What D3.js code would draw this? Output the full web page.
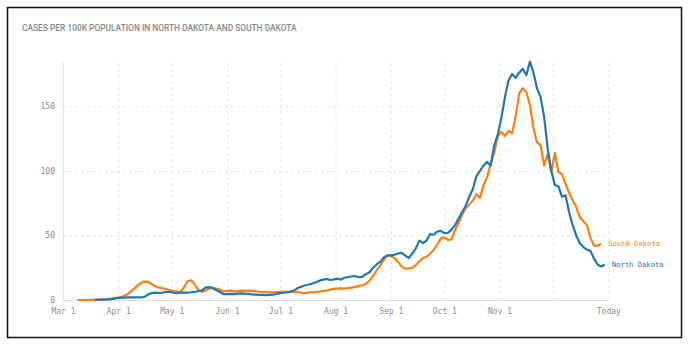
<!DOCTYPE html>
<html>
<head>
<meta charset="utf-8">
<script src="https://cdn.jsdelivr.net/npm/d3@7/dist/d3.min.js"></script>
<style>
  html, body { margin: 0; padding: 0; background: #fff; }
  svg { display: block; }
</style>
</head>
<body>
<svg id="chart" width="688" height="345"></svg>
<script>
// Cases per 100k population, sampled every 2 days.
const title = "CASES PER 100K POPULATION IN NORTH DAKOTA AND SOUTH DAKOTA";
const seriesNames = ["North Dakota", "South Dakota"];
const seriesColors = ["#1f77b4", "#ff7f0e"];

// South Dakota starts 2020-03-09
const sdStart = "2020-03-09";
const sdValues = [
  0, 0, 0, 0.1, 0.2, 0.3, 0.4, 0.5, 0.6, 0.8,
  1.2, 1.6, 2.0, 3.0, 4.2, 6.5, 8.8, 11.5, 13.5, 14.2,
  14.0, 12.0, 10.5, 9.6, 9.0, 8.5, 7.6, 7.0, 6.6, 6.2,
  10.0, 14.5, 15.2, 12.0, 7.5, 6.5, 7.4, 8.8, 9.2, 8.8,
  8.0, 6.6, 7.0, 7.3, 6.6, 6.8, 7.2, 7.0, 7.2, 7.0,
  6.8, 6.4, 6.0, 6.2, 6.0, 5.9, 6.2, 6.4, 6.6, 6.4,
  6.2, 6.4, 6.0, 5.6, 5.2, 5.8, 6.2, 6.0, 6.6, 7.0,
  7.2, 8.0, 8.6, 8.8, 9.0, 8.8, 9.2, 9.6, 10.2, 10.8,
  11.4, 12.5, 15.0, 18.5, 23.0, 26.5, 31.0, 34.5, 34.0, 32.5,
  29.5, 26.0, 24.2, 24.5, 25.0, 27.0, 30.0, 32.5, 33.5, 36.0,
  38.5, 43.0, 47.5, 48.5, 46.5, 47.0, 54.0, 60.0, 66.0, 71.0,
  74.0, 77.0, 82.0, 79.0, 89.0, 95.0, 106.0, 114.0, 127.0, 130.0,
  127.0, 131.0, 129.0, 142.0, 160.0, 164.0, 161.0, 151.0, 133.0, 122.0,
  120.0, 104.0, 113.0, 99.0, 114.0, 99.0, 97.5, 90.0, 83.0, 77.0,
  72.0, 64.0, 61.0, 58.0, 48.0, 42.0, 42.0, 43.5
];

// North Dakota starts 2020-03-19
const ndStart = "2020-03-19";
const ndValues = [
  0, 0.2, 0.3, 0.4, 0.5, 0.9, 1.4, 1.6, 1.8, 2.0,
  2.0, 2.0, 2.0, 2.1, 2.6, 4.5, 5.4, 5.7, 5.3, 5.8,
  6.4, 6.2, 5.6, 5.2, 5.7, 5.8, 5.7, 6.0, 6.4, 6.8,
  7.4, 9.6, 10.0, 9.4, 7.8, 6.2, 4.6, 4.5, 4.7, 4.6,
  5.0, 5.2, 4.9, 4.8, 4.4, 4.2, 4.0, 3.9, 3.8, 4.0,
  4.1, 4.8, 5.3, 5.6, 6.0, 6.8, 7.6, 9.5, 10.5, 11.4,
  12.0, 12.8, 13.8, 15.0, 15.8, 16.3, 15.5, 16.0, 16.5, 15.8,
  17.2, 17.8, 18.2, 18.6, 17.6, 18.0, 20.0, 21.5, 25.0, 27.5,
  29.5, 33.0, 34.5, 34.5, 35.0, 36.0, 36.5, 34.5, 32.5, 36.0,
  40.0, 46.0, 44.0, 46.0, 51.0, 50.5, 53.0, 53.5, 51.8, 52.0,
  54.5, 58.0, 63.0, 68.0, 73.0, 80.0, 86.0, 96.0, 100.0, 104.0,
  107.0, 104.0, 120.0, 128.0, 141.0, 157.0, 170.0, 175.0, 172.0, 176.0,
  179.0, 174.0, 184.5, 176.0, 164.0, 157.0, 142.0, 117.0, 100.0, 89.0,
  88.0, 80.0, 81.0, 68.0, 58.0, 50.0, 44.0, 41.0, 39.0, 38.0,
  32.0, 27.5, 26.0, 27.5
];

const stepDays = 2;
const xDomain = ["2020-03-01", "2021-01-01"];
const xTickDates = ["2020-03-01", "2020-04-01", "2020-05-01", "2020-06-01", "2020-07-01",
  "2020-08-01", "2020-09-01", "2020-10-01", "2020-11-01", "2020-12-01", "2021-01-01"];
const xTickLabels = ["Mar 1", "Apr 1", "May 1", "Jun 1", "Jul 1", "Aug 1", "Sep 1",
  "Oct 1", "Nov 1", "", "Today"];
const yTicks = [0, 50, 100, 150];

const parse = d3.utcParse("%Y-%m-%d");
function toPoints(start, values) {
  const s = parse(start);
  return values.map((v, i) => ({ date: d3.utcDay.offset(s, i * stepDays), value: v }));
}
const series = [
  { name: seriesNames[0], color: seriesColors[0], points: toPoints(ndStart, ndValues) },
  { name: seriesNames[1], color: seriesColors[1], points: toPoints(sdStart, sdValues) }
];

const svg = d3.select("#chart");
const margin = { left: 63, right: 79.7, top: 61.7, bottom: 45 };
const W = 688, H = 345;

const x = d3.scaleUtc()
  .domain(xDomain.map(parse))
  .range([margin.left, W - margin.right]);
const yMax = d3.max(series, s => d3.max(s.points, p => p.value));
const y = d3.scaleLinear()
  .domain([0, yMax])
  .range([H - margin.bottom, margin.top]);

// outer frame
svg.append("rect")
  .attr("x", 7.5).attr("y", 7.5)
  .attr("width", 674).attr("height", 330)
  .attr("fill", "#fff")
  .attr("stroke", "#111").attr("stroke-width", 1.5);

svg.append("text")
  .attr("x", 22).attr("y", 31)
  .attr("font-family", "Roboto, sans-serif")
  .attr("font-size", 8.4)
  .attr("font-weight", 500)
  .attr("fill", "#888")
  .text(title);

const mono = "'DejaVu Sans Mono', 'Liberation Mono', monospace";

// vertical grid
const xAxis = d3.axisBottom(x)
  .tickValues(xTickDates.map(parse))
  .tickFormat((d, i) => xTickLabels[i])
  .tickSize(-(y(0) - y(yMax)))
  .tickPadding(8);
const gx = svg.append("g")
  .attr("transform", `translate(0,${y(0)})`)
  .call(xAxis);
gx.select(".domain").remove();
gx.selectAll(".tick line")
  .attr("stroke", "#e4e4e4")
  .attr("stroke-dasharray", (d, i) => i === 0 ? null : "3,3");
gx.selectAll(".tick text")
  .attr("font-family", mono)
  .attr("font-size", 8)
  .attr("fill", "#8c8c8c");

// horizontal grid
const yAxis = d3.axisLeft(y)
  .tickValues(yTicks)
  .tickSize(-(x.range()[1] - x.range()[0]))
  .tickPadding(8);
const gy = svg.append("g")
  .attr("transform", `translate(${margin.left},0)`)
  .call(yAxis);
gy.select(".domain").remove();
gy.selectAll(".tick line")
  .attr("stroke", d => d === 0 ? "#dedede" : "#e4e4e4")
  .attr("stroke-dasharray", d => d === 0 ? null : "3,3");
gy.selectAll(".tick text")
  .attr("font-family", mono)
  .attr("font-size", 8)
  .attr("fill", "#8c8c8c");

const line = d3.line()
  .x(p => x(p.date))
  .y(p => y(p.value))
  .curve(d3.curveLinear);

// draw South Dakota first so North Dakota sits on top
[series[1], series[0]].forEach(s => {
  svg.append("path")
    .datum(s.points)
    .attr("fill", "none")
    .attr("stroke", s.color)
    .attr("stroke-width", 2.2)
    .attr("stroke-linejoin", "round")
    .attr("d", line);
});

// end-of-line labels
series.forEach(s => {
  const last = s.points[s.points.length - 1];
  svg.append("text")
    .attr("x", x(last.date) + 7)
    .attr("y", y(last.value))
    .attr("dy", "0.35em")
    .attr("font-family", mono)
    .attr("font-size", 7.2)
    .attr("fill", s.color)
    .text(s.name);
});
</script>
</body>
</html>
